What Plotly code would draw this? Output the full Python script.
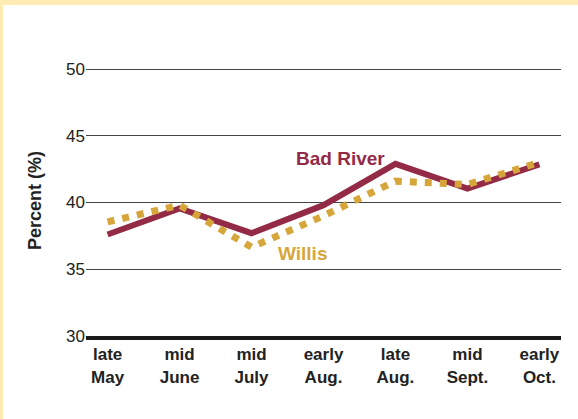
import plotly.graph_objects as go

periods = ["late<br>May", "mid<br>June", "mid<br>July", "early<br>Aug.",
           "late<br>Aug.", "mid<br>Sept.", "early<br>Oct."]
bad_river = [37.6, 39.55, 37.7, 39.8, 42.9, 41.05, 42.85]
willis = [38.55, 39.8, 36.65, 39.0, 41.6, 41.35, 43.0]
y_ticks = [30, 35, 40, 45, 50]

MAROON = "#932B47"
GOLD = "#D6A63A"
FONT = "Liberation Sans, Arial, Helvetica, sans-serif"

x_idx = list(range(len(periods)))

fig = go.Figure()
fig.add_trace(go.Scatter(
    x=x_idx, y=bad_river, mode="lines", name="Bad River",
    line=dict(color=MAROON, width=6),
))
fig.add_trace(go.Scatter(
    x=x_idx, y=willis, mode="lines", name="Willis",
    line=dict(color=GOLD, width=7, dash="7px,8px"),
))

fig.add_annotation(x=3.23, y=43.3, text="<b>Bad River</b>", showarrow=False,
                   font=dict(family=FONT, size=19, color=MAROON))
fig.add_annotation(x=2.71, y=36.2, text="<b>Willis</b>", showarrow=False,
                   font=dict(family=FONT, size=19, color=GOLD))

# pale yellow frame (top and left edges)
fig.add_shape(type="rect", xref="paper", yref="paper", x0=-0.3, x1=1.1,
              y0=1.2214, y1=1.4, fillcolor="#FFECB3", line_width=0, layer="above")
fig.add_shape(type="rect", xref="paper", yref="paper", x0=-0.3, x1=-0.1747,
              y0=-0.4, y1=1.4, fillcolor="#FFECB3", line_width=0, layer="above")

fig.update_layout(
    width=578, height=419,
    margin=dict(l=86, r=17, t=65, b=83),
    paper_bgcolor="white", plot_bgcolor="white",
    showlegend=False,
    font=dict(family=FONT, color="#222"),
    xaxis=dict(
        range=[-0.3, 6.3], tickvals=x_idx,
        ticktext=[f"<b>{p}</b>" for p in periods],
        tickfont=dict(size=17, color="#222"),
        showgrid=False, zeroline=False,
        showline=True, linecolor="#1a1a1a", linewidth=4,
        ticks="", fixedrange=True,
    ),
    yaxis=dict(
        range=[30, 50.3], tickvals=y_ticks,
        tickfont=dict(size=17, color="#222"),
        showgrid=True, gridcolor="#444", gridwidth=1.3,
        zeroline=False, showline=False, ticks="",
        title=dict(text="<b>Percent (%)</b>", font=dict(size=18, color="#222"),
                   standoff=19),
    ),
)

# drop the browser's default body margin so the chart sits at the page corner
fig.write_html("out.html", config={"displayModeBar": False},
               post_script="document.body.style.margin='0';")
